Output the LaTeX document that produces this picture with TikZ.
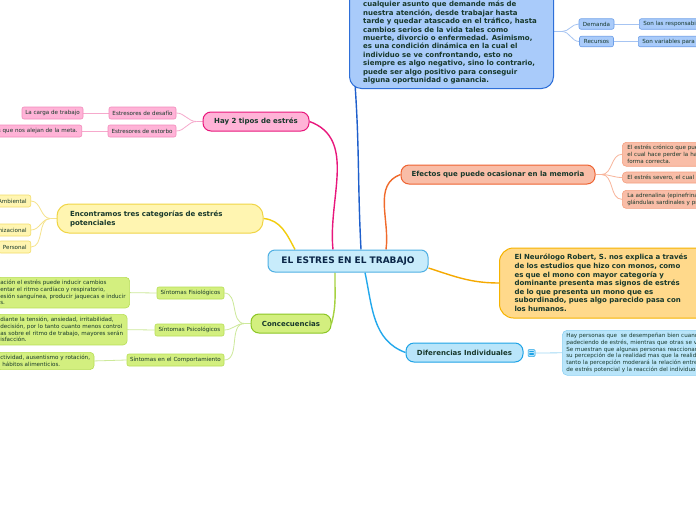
\documentclass[tikz,border=0pt]{standalone}
\usepackage{fontspec}
\setmainfont{DejaVu Sans}
\usepackage{xcolor}
\usetikzlibrary{calc}
\pgfdeclarelayer{background}
\pgfsetlayers{background,main}

\definecolor{nodetext}{HTML}{17382B}
\definecolor{roottext}{HTML}{0B2748}
\definecolor{rootfill}{HTML}{C8ECFB}
\definecolor{rootedge}{HTML}{4FB0E3}
\definecolor{conceptfill}{HTML}{A9CBFA}
\definecolor{conceptedge}{HTML}{2E6FD8}
\definecolor{conceptline}{HTML}{1E5FCC}
\definecolor{blueleafedge}{HTML}{6E9FE8}
\definecolor{bluetwig}{HTML}{A6C4F2}
\definecolor{pinkfill}{HTML}{FFB3D7}
\definecolor{pinkedge}{HTML}{E8177C}
\definecolor{pinkleafedge}{HTML}{F28BBB}
\definecolor{pinktwig}{HTML}{F6A9CC}
\definecolor{yellowfill}{HTML}{FFF5B1}
\definecolor{yellowedge}{HTML}{F0D546}
\definecolor{yellowline}{HTML}{F2CC0C}
\definecolor{yellowleafedge}{HTML}{F3DD6A}
\definecolor{yellowtwig}{HTML}{F6E38C}
\definecolor{greenfill}{HTML}{D3EF7F}
\definecolor{greenedge}{HTML}{8CC625}
\definecolor{greenline}{HTML}{A6D241}
\definecolor{greenleafedge}{HTML}{B7DE55}
\definecolor{greentwig}{HTML}{CDE99A}
\definecolor{salmonfill}{HTML}{F9BDA7}
\definecolor{salmonedge}{HTML}{EE6331}
\definecolor{salmonline}{HTML}{F06A2B}
\definecolor{salmonleafedge}{HTML}{F4A081}
\definecolor{salmontwig}{HTML}{F8B59B}
\definecolor{orangefill}{HTML}{FFD98B}
\definecolor{orangeedge}{HTML}{F6B300}
\definecolor{orangeline}{HTML}{F5A900}
\definecolor{skyfill}{HTML}{B9E5FA}
\definecolor{skyedge}{HTML}{1FA3E6}
\definecolor{skyline}{HTML}{22A8EC}
\definecolor{skyleafedge}{HTML}{8CD1F3}
\definecolor{skytwig}{HTML}{A2D9F5}

\begin{document}
\begin{tikzpicture}[
			x=1pt,
			y=-1pt,
			line cap=round,
			line join=round,
			every node/.style={text=nodetext, inner sep=0pt},
			root/.style={draw=rootedge, fill=rootfill, line width=1pt, rounded corners=7pt, minimum width=160pt, minimum height=22pt, text=roottext, font=\fontsize{9}{11}\selectfont\bfseries},
			topic/.style={line width=1pt, rounded corners=8pt, minimum height=19pt, font=\fontsize{7}{9}\selectfont\bfseries},
			leaf/.style={line width=.6pt, rounded corners=2pt, minimum height=12pt, font=\fontsize{5.6}{6.7}\selectfont},
			textleaf/.style={leaf, rounded corners=4pt, align=left, inner xsep=4pt, inner ysep=3pt},
			link/.style={line width=1.4pt},
			twig/.style={line width=.8pt},
			noteicon/.style={draw=skyedge, fill=skyfill, line width=.5pt, rounded corners=1pt, minimum size=7pt,
				path picture={\foreach \k in {-1.6,0,1.6}
					\draw[skyedge, line width=.5pt] ($(path picture bounding box.center)+(-2,\k)$) -- ++(4,0);}}
			]
			
			\useasboundingbox (0,0) rectangle (696,520);
			\begin{pgfonlayer}{background}
				\fill[white] (0,0) rectangle (696,520);
			\end{pgfonlayer}
			\clip (0,0) rectangle (696,520);
			
			%------------------------------
			% Central topic
			%------------------------------
			\node[root] (root) at (348,261) {EL ESTRES EN EL TRABAJO};
			
			%------------------------------
			% Top: definition and its leaves
			%------------------------------
			\node[topic, draw=conceptedge, fill=conceptfill, rounded corners=12pt, minimum width=204pt, minimum height=114pt, anchor=south west] (concept) at (349,89) {};
			\node[anchor=north west, align=left, font=\fontsize{7}{8.4}\selectfont\bfseries] (concepttext) at (363,1) {cualquier asunto que demande más de\\nuestra atención, desde trabajar hasta\\tarde y quedar atascado en el tráfico, hasta\\cambios serios de la vida tales como\\muerte, divorcio o enfermedad. Asimismo,\\es una condición dinámica en la cual el\\individuo se ve confrontando, esto no\\siempre es algo negativo, sino lo contrario,\\puede ser algo positivo para conseguir\\alguna oportunidad o ganancia.};
			
			\node[leaf, draw=blueleafedge, fill=conceptfill, minimum width=35pt, minimum height=10.5pt] (demanda) at (596.5,24) {Demanda};
			\node[leaf, draw=blueleafedge, fill=conceptfill, minimum width=34pt, minimum height=10.5pt] (recursos) at (596.5,41.5) {Recursos};
			\node[leaf, draw=blueleafedge, fill=conceptfill, minimum height=10.5pt, anchor=west, text width=70pt, align=left, inner xsep=4pt] (responsab) at (639,24) {Son las responsabi};
			\node[leaf, draw=blueleafedge, fill=conceptfill, minimum height=10.5pt, anchor=west, text width=70pt, align=left, inner xsep=4pt] (variables) at (638,41.5) {Son variables para};
			
			%------------------------------
			% Pink branch
			%------------------------------
			\node[topic, draw=pinkedge, fill=pinkfill, minimum width=106pt] (tipos) at (256,121.5) {Hay 2 tipos de estrés};
			\node[leaf, draw=pinkleafedge, fill=pinkfill, minimum width=67pt] (desafio) at (142.5,113) {Estresores de desafío};
			\node[leaf, draw=pinkleafedge, fill=pinkfill, minimum width=68pt] (estorbo) at (142,131) {Estresores de estorbo};
			\node[leaf, draw=pinkleafedge, fill=pinkfill, minimum width=61pt] (carga) at (52.5,113) {La carga de trabajo};
			\node[leaf, draw=pinkleafedge, fill=pinkfill, anchor=east, text width=88pt, align=right, inner xsep=4pt] (meta) at (82,131) {s que nos alejan de la meta.};
			
			%------------------------------
			% Yellow branch
			%------------------------------
			\node[topic, draw=yellowedge, fill=yellowfill, rounded corners=12pt, minimum height=29pt, text width=180pt, inner xsep=13pt, align=left] (categorias) at (160,218.5) {Encontramos tres categorías de estrés\\potenciales};
			\foreach \name/\ypos/\boxw/\txt in {ambiental/201/40/Ambiental, organizacional/230/40/nizacional, personal/247/24/Personal}{
				\node[leaf, draw=yellowleafedge, fill=yellowfill, anchor=east, text width=\boxw pt, align=right, inner xsep=4pt] (\name) at (31,\ypos) {\txt};
			}
			
			%------------------------------
			% Green branch
			%------------------------------
			\node[topic, draw=greenedge, fill=greenfill, minimum width=80pt] (conse) at (291,323.5) {Concecuencias};
			\node[leaf, draw=greenleafedge, fill=greenfill, minimum width=67pt] (fisio) at (190.5,293) {Síntomas Fisiológicos};
			\node[leaf, draw=greenleafedge, fill=greenfill, minimum width=69pt] (psico) at (189.5,330) {Síntomas Psicológicos};
			\node[leaf, draw=greenleafedge, fill=greenfill, minimum width=97pt] (comport) at (175.5,360) {Síntomas en el Comportamiento};
			\node[textleaf, draw=greenleafedge, fill=greenfill, anchor=north west] (fisiotext) at (-4,277) {ación el estrés puede inducir cambios\\entar el ritmo cardíaco y respiratorio,\\esión sanguínea, producir jaquecas e inducir\\s.};
			\node[textleaf, draw=greenleafedge, fill=greenfill, anchor=north west] (psicotext) at (-4,314) {diante la tensión, ansiedad, irritabilidad,\\decisión, por lo tanto cuanto menos control\\as sobre el ritmo de trabajo, mayores serán\\isfacción.};
			\node[textleaf, draw=greenleafedge, fill=greenfill, anchor=north west] (comporttext) at (-4,352) {ctividad, ausentismo y rotación,\\\hspace*{2pt}hábitos alimenticios.};
			
			%------------------------------
			% Salmon branch
			%------------------------------
			\node[topic, draw=salmonedge, fill=salmonfill, minimum width=194pt] (efectos) at (498,174.5) {Efectos que puede ocasionar en la memoria};
			\node[textleaf, draw=salmonleafedge, fill=salmonfill, anchor=north west, text width=100pt, inner xsep=5pt] (cronico) at (622,142) {El estrés crónico que pue\\el cual hace perder la hab\\forma correcta.};
			\node[textleaf, draw=salmonleafedge, fill=salmonfill, anchor=west, text width=100pt, inner xsep=5pt, inner ysep=0pt, minimum height=11pt] (severo) at (622,177.5) {El estrés severo, el cual n};
			\node[textleaf, draw=salmonleafedge, fill=salmonfill, anchor=north west, text width=100pt, inner xsep=5pt] (adrenalina) at (622,190) {La adrenalina (epinefrina\\glándulas sardinales y pr};
			
			%------------------------------
			% Orange branch
			%------------------------------
			\node[topic, draw=orangeedge, fill=orangefill, rounded corners=14pt, minimum height=70pt, text width=185pt, inner xsep=15pt, align=left, anchor=west, font=\fontsize{7}{8.6}\selectfont\bfseries] (robert) at (499,283) {El Neurólogo Robert, S. nos explica a través\\de los estudios que hizo con monos, como\\es que el mono con mayor categoría y\\dominante presenta mas signos de estrés\\de lo que presenta un mono que es\\subordinado, pues algo parecido pasa con\\los humanos.};
			
			%------------------------------
			% Sky blue branch
			%------------------------------
			\node[topic, draw=skyedge, fill=skyfill, minimum width=117pt] (difer) at (464.5,352.5) {Diferencias Individuales};
			\node[textleaf, draw=skyleafedge, fill=skyfill, rounded corners=5pt, anchor=north west, text width=160pt] (personas) at (562,330) {Hay personas que~ se desempeñan bien cuand\\padeciendo de estrés, mientras que otras se ve\\Se muestran que algunas personas reaccionan\\su percepción de la realidad mas que la realida\\tanto la percepción moderará la relación entre\\de estrés potencial y la reacción del individuo a};
			\node[noteicon] (nota) at (531.5,353) {};
			
			%------------------------------
			% Connectors
			%------------------------------
			\begin{pgfonlayer}{background}
				% main links
				\draw[link, conceptline] ([xshift=13pt]root.north) to[out=93,in=-86] ([xshift=6pt,yshift=5pt]concept.south west);
				\draw[link, pinkedge] ([xshift=-15pt]root.north) to[out=96,in=-20] (tipos.east);
				\draw[link, yellowline] ([xshift=-53pt]root.north) to[out=118,in=-5] (categorias.east);
				\draw[link, greenline] ([xshift=-13pt]root.south) to[out=-91,in=75] (conse.east);
				\draw[link, salmonline] ([xshift=38pt]root.north) to[out=82,in=200] (efectos.west);
				\draw[link, orangeline] ([yshift=-7pt]root.east) to[out=-18,in=180] (robert.west);
				\draw[link, skyline] ([xshift=17pt]root.south) to[out=-78,in=160] (difer.west);
				
				% forks
				\draw[twig, bluetwig] (concept.east) -- ++(8,0) coordinate (forkblue);
				\foreach \leaf in {demanda,recursos}
					\draw[twig, bluetwig] (forkblue) to[out=0,in=180] (\leaf.west);
				\draw[twig, bluetwig] (demanda.east) -- (responsab.west);
				\draw[twig, bluetwig] (recursos.east) -- (variables.west);
				
				\draw[twig, pinktwig] (tipos.west) -- ++(-6,0) coordinate (forkpink);
				\foreach \leaf in {desafio,estorbo}
					\draw[twig, pinktwig] (forkpink) to[out=180,in=0] (\leaf.east);
				\draw[twig, pinktwig] (desafio.west) -- (carga.east);
				\draw[twig, pinktwig] (estorbo.west) -- (meta.east);
				
				\draw[twig, yellowtwig] (categorias.west) -- ++(-6,0) coordinate (forkyellow);
				\foreach \leaf in {ambiental,organizacional,personal}
					\draw[twig, yellowtwig] (forkyellow) to[out=180,in=0] (\leaf.east);
				
				\draw[twig, greentwig] (conse.west) -- ++(-6,0) coordinate (forkgreen);
				\foreach \leaf in {fisio,psico,comport}
					\draw[twig, greentwig] (forkgreen) to[out=180,in=0] (\leaf.east);
				\draw[twig, greentwig] (fisio.west) -- (fisiotext.east);
				\draw[twig, greentwig] (psico.west) -- (psicotext.east);
				\draw[twig, greentwig] (comport.west) -- (comporttext.east);
				
				\draw[twig, salmontwig] (efectos.east) -- ++(6,0) coordinate (forksalmon);
				\foreach \leaf in {cronico,severo,adrenalina}
					\draw[twig, salmontwig] (forksalmon) to[out=0,in=180] (\leaf.west);
				
				\draw[twig, skytwig] (nota.east) -- (personas.west);
			\end{pgfonlayer}
		\end{tikzpicture}
\end{document}
